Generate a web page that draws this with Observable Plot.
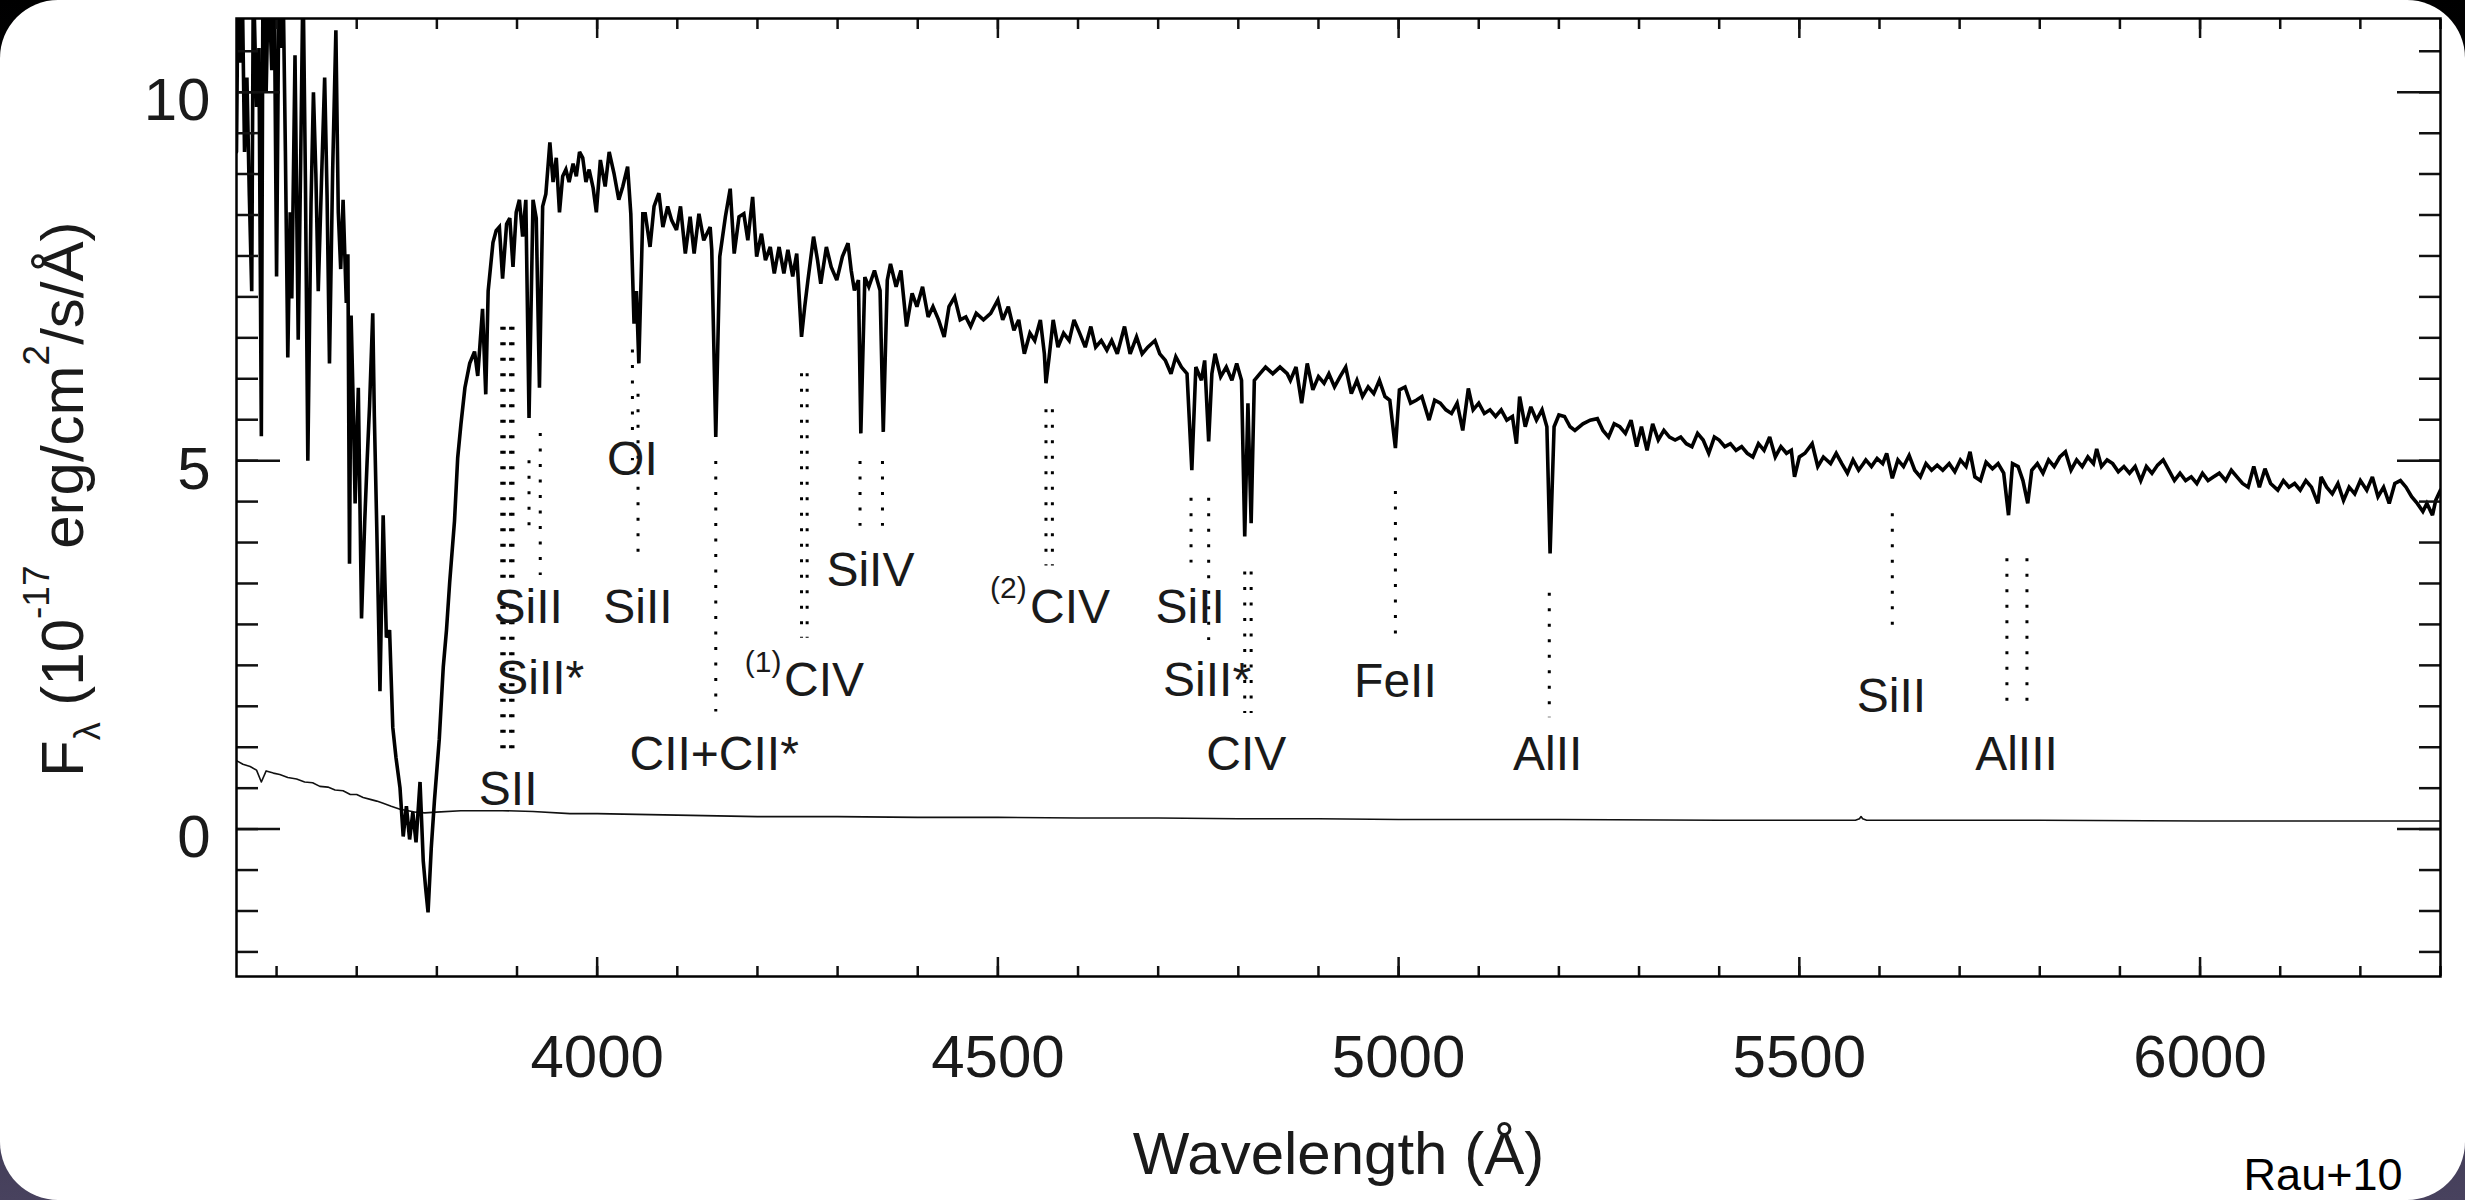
<!DOCTYPE html>
<html><head><meta charset="utf-8">
<script src="https://cdn.jsdelivr.net/npm/d3@7"></script>
<script src="https://cdn.jsdelivr.net/npm/@observablehq/plot@0.6"></script>
<style>
html,body{margin:0;padding:0;width:2465px;height:1200px;overflow:hidden;background:linear-gradient(#000 0%,#15121e 45%,#48425e 100%);}
#card{position:absolute;left:0;top:0;width:2465px;height:1200px;background:#fff;border-radius:58px;overflow:hidden;}
</style></head>
<body><div id="card"></div>
<script>
// Flux spectrum [wavelength Å, F_lambda in 1e-17 erg/cm2/s/Å]
const fluxBlue = [
[3550,9.19],[3552,11.6],[3554,10.4],[3557,11.6],[3560,9.19],[3563,10.2],[3566,8.6],[3569,7.3],[3571,11.6],[3575,9.8],
[3578,10.6],[3581,5.33],[3583,11.6],[3587,10.0],[3590,11.6],[3594,10.3],[3597,11.6],[3600,7.5],[3603,11.6],[3606,10.6],
[3608,11.6],[3611,9.2],[3614,6.4],[3617,8.37],[3619,7.2],[3623,10.5],[3627,6.64],[3630,9.0],[3633,11.6],[3636,8.8],
[3639,5.0],[3643,8.5],[3646,10.0],[3649,8.9],[3652,7.3],[3656,8.78],[3660,10.2],[3663,8.6],[3666,6.32],[3670,8.95],
[3674,10.84],[3677,8.37],[3680,7.6],[3683,8.54],[3687,7.14],[3689,7.8],[3691,3.6],[3693,6.97],[3696,5.6],[3698,4.42],
[3702,5.99],[3706,2.86],[3710,4.18],[3713,5.0],[3716,5.74],[3720,7.0],[3722,5.6],[3725,4.1],[3729,1.87],[3733,4.26],
[3737,2.6],[3741,2.7],[3745,1.38],[3749,0.97],[3754,0.56],[3758,-0.1],[3762,0.31],[3766,-0.14],[3770,0.23],[3774,-0.18],
[3779,0.64],[3783,-0.43],[3786,-0.8],[3789,-1.13],[3793,-0.26],[3797,0.39],[3803,1.22],[3808,2.2],[3812,2.7],[3816,3.35],
[3822,4.18],[3826,5.04],[3830,5.49],[3835,5.99],[3841,6.32],[3847,6.48],[3851,6.15],[3857,7.06],[3861,5.9],[3864,7.3],
[3870,7.96],[3874,8.12],[3878,8.17],[3882,7.47],[3887,8.21],[3891,8.29],[3895,7.63],[3899,8.37],[3903,8.54],[3907,8.04],
[3911,8.54],[3915,5.58],[3920,8.54],[3924,8.29],[3928,5.99],[3932,8.45],[3936,8.62]
];
const fluxPeak = [
[3941,9.32],[3945,8.78],[3949,9.11],[3953,8.37],[3957,8.86],[3961,8.95],[3965,8.78],[3970,9.03],[3974,8.86],[3978,9.19],
[3982,9.11],[3986,8.78],[3990,8.95],[3995,8.7],[3999,8.37],[4004,9.08],[4010,8.72],[4015,9.19],[4021,8.9],[4027,8.54],
[4032,8.72],[4038,8.99],[4042,8.35],[4046,6.86],[4049,7.3],[4052,6.32],[4057,8.35],[4060,8.35],[4066,7.9],[4071,8.45],
[4077,8.63],[4082,8.17],[4088,8.45],[4093,8.26],[4099,8.13],[4104,8.45],[4110,7.81],[4116,8.31],[4121,7.81],[4127,8.35],
[4133,7.99],[4141,8.17],[4143,7.86],[4148,5.32],[4153,7.77],[4160,8.31],[4166,8.69],[4171,7.81],[4177,8.31],[4183,8.35],
[4188,7.99],[4194,8.58],[4199,7.77],[4205,8.08],[4210,7.72],[4216,7.9],[4221,7.54],[4227,7.9],[4233,7.54],[4238,7.86],
[4244,7.5],[4249,7.81]
];
const fluxMid = [
[4255,6.68],[4259,7.09],[4263,7.45],[4270,8.04],[4275,7.72],[4279,7.4],[4286,7.9],[4292,7.63],[4299,7.45],[4306,7.77],
[4313,7.95],[4317,7.58],[4321,7.31],[4326,7.45],[4329,5.37],[4334,7.49],[4339,7.36],[4346,7.58],[4353,7.31],[4357,5.39],
[4362,7.45],[4366,7.67],[4373,7.36],[4379,7.58],[4386,6.82],[4393,7.27],[4399,7.09],[4406,7.36],[4413,6.95],[4419,7.09],
[4426,6.91],[4433,6.68],[4439,7.09],[4446,7.22],[4453,6.91],[4460,6.95],[4466,6.82],[4473,7.0],[4482,6.91],[4491,7.0],
[4500,7.18],[4506,6.91],[4513,7.09],[4520,6.77],[4526,6.91],[4533,6.45],[4540,6.73],[4546,6.63],[4553,6.91],[4558,6.45],
[4560,6.05],[4564,6.41],[4569,6.91],[4575,6.54],[4582,6.73],[4589,6.63],[4595,6.91],[4602,6.73],[4609,6.54],[4616,6.82],
[4622,6.54],[4629,6.63],[4636,6.5],[4642,6.63],[4649,6.45],[4658,6.82],[4665,6.45],[4673,6.68],[4680,6.45],[4687,6.54],
[4696,6.63],[4702,6.45],[4709,6.36],[4716,6.18],[4722,6.41],[4729,6.27],[4736,6.18],[4742,4.87],[4747,6.27],[4754,6.09],
[4758,6.36],[4763,5.26],[4767,6.18],[4771,6.45],[4778,6.14],[4785,6.27],[4792,6.09],[4798,6.32],[4804,6.09],[4808,3.97],
[4812,5.78],[4816,4.15],[4820,6.09],[4827,6.18],[4834,6.27],[4843,6.18],[4852,6.27],[4861,6.18]
];
const fluxRed = [
[4865,6.09],[4872,6.27],[4879,5.78],[4886,6.32],[4893,5.96],[4900,6.14],[4907,6.05],[4913,6.18],[4920,6.0],[4927,6.14],
[4934,6.27],[4941,5.91],[4948,6.09],[4955,5.87],[4962,6.0],[4969,5.91],[4976,6.09],[4983,5.87],[4989,5.82],[4996,5.17],
[5001,5.96],[5008,6.0],[5015,5.78],[5022,5.82],[5029,5.87],[5038,5.55],[5045,5.82],[5052,5.78],[5059,5.69],[5066,5.64],
[5073,5.78],[5080,5.41],[5087,5.98],[5093,5.69],[5100,5.78],[5107,5.64],[5114,5.69],[5121,5.6],[5128,5.69],[5135,5.55],
[5142,5.6],[5147,5.23],[5151,5.87],[5158,5.46],[5165,5.73],[5172,5.55],[5179,5.69],[5185,5.46],[5189,3.74],[5194,5.46],
[5200,5.62],[5207,5.6],[5214,5.46],[5220,5.41],[5230,5.5],[5239,5.55],[5248,5.57],[5255,5.41],[5262,5.32],[5269,5.5],
[5276,5.46],[5283,5.37],[5290,5.55],[5297,5.19],[5303,5.46],[5310,5.14],[5317,5.5],[5324,5.28],[5331,5.41],[5338,5.32],
[5345,5.28],[5352,5.32],[5359,5.23],[5366,5.19],[5373,5.37],[5380,5.28],[5387,5.1],[5394,5.32],[5400,5.28],[5407,5.19],
[5414,5.23],[5421,5.14],[5428,5.19],[5435,5.1],[5442,5.05],[5449,5.23],[5456,5.14],[5463,5.32],[5470,5.05],[5477,5.19],
[5484,5.1],[5490,5.14],[5494,4.78],[5500,5.05],[5507,5.1],[5516,5.23],[5523,4.92],[5530,5.05],[5539,4.96],[5546,5.1],
[5553,4.96],[5560,4.83],[5567,5.01],[5574,4.87]
];
const fluxFar = [
[5580,4.96],[5583,5.01],[5590,4.92],[5597,5.03],[5604,4.96],[5609,5.1],[5616,4.76],[5623,5.01],[5630,4.92],[5637,5.07],
[5644,4.87],[5651,4.78],[5658,4.96],[5665,4.87],[5672,4.94],[5679,4.87],[5687,4.96],[5694,4.85],[5701,5.01],[5708,4.92],
[5713,5.12],[5719,4.78],[5726,4.73],[5733,4.98],[5741,4.89],[5748,4.96],[5755,4.83],[5761,4.26],[5766,4.96],[5773,4.92],
[5779,4.73],[5785,4.42],[5790,4.87],[5797,4.96],[5804,4.83],[5811,5.01],[5818,4.92],[5825,5.05],[5832,5.12],[5839,4.87],
[5846,5.01],[5853,4.92],[5860,5.05],[5867,4.96],[5871,5.16],[5877,4.92],[5884,5.01],[5891,4.96],[5898,4.85],[5905,4.92],
[5912,4.83],[5919,4.92],[5926,4.73],[5933,4.92],[5940,4.83],[5947,4.94],[5954,5.01],[5961,4.87],[5968,4.73],[5975,4.83],
[5982,4.73],[5989,4.78],[5996,4.69],[6003,4.83],[6010,4.73],[6017,4.78],[6024,4.83],[6032,4.73],[6039,4.87],[6046,4.78],
[6053,4.69],[6060,4.64],[6067,4.92],[6074,4.64],[6081,4.89],[6088,4.69],[6097,4.6],[6104,4.73],[6111,4.64],[6118,4.69],
[6125,4.6],[6132,4.73],[6139,4.64],[6147,4.42],[6151,4.78],[6158,4.64],[6165,4.55],[6172,4.69],[6179,4.46],[6186,4.64],
[6193,4.55],[6200,4.73],[6208,4.6],[6215,4.78],[6222,4.51],[6229,4.64],[6236,4.42],[6243,4.69],[6250,4.73],[6257,4.64],
[6264,4.51],[6271,4.42],[6278,4.31],[6283,4.42],[6290,4.26],[6294,4.46],[6300,4.6]
];
// Error spectrum
const errorFlux = [
[3550,0.93],[3558,0.88],[3567,0.85],[3575,0.8],[3581,0.64],[3587,0.79],[3596,0.76],[3604,0.74],[3614,0.7],[3625,0.68],
[3635,0.64],[3645,0.63],[3654,0.58],[3664,0.57],[3673,0.53],[3683,0.52],[3692,0.47],[3700,0.47],[3708,0.43],[3718,0.4],
[3725,0.38],[3733,0.35],[3743,0.31],[3754,0.27],[3764,0.25],[3774,0.23],[3785,0.22],[3799,0.23],[3830,0.25],[3860,0.25],
[3882,0.25],[3920,0.24],[3966,0.21],[4000,0.21],[4049,0.2],[4100,0.19],[4150,0.18],[4200,0.17],[4300,0.17],[4400,0.16],
[4500,0.16],[4600,0.15],[4700,0.15],[4800,0.14],[4900,0.14],[5000,0.13],[5200,0.13],[5400,0.12],[5570,0.12],[5575,0.14],
[5577,0.17],[5579,0.14],[5584,0.12],[5800,0.12],[6000,0.11],[6300,0.11]
];
// Absorption line markers [wavelength, flux top, flux bottom]
const lineMarkers = [
[3881,6.81,1.09],[3884,6.81,1.09],[3892,6.81,1.09],[3895,6.81,1.09],
[3915,5.0,4.1],[3929,5.37,3.44],
[4044,6.5,5.0],[4051,5.9,3.64],
[4148,4.99,1.59],
[4255,6.18,2.59],[4262,6.18,2.59],
[4328,4.99,4.11],[4356,4.99,4.11],
[4560,5.69,3.57],[4568,5.69,3.57],
[4741,4.49,3.61],[4763,4.49,2.56],
[4808,3.49,1.57],[4816,3.49,1.57],
[4996,4.58,2.5],
[5188,3.2,1.51],
[5616,4.28,2.61],
[5759,3.67,1.57],[5784,3.67,1.57]
];
// Ion labels [text, wavelength, flux of baseline]
const ionLabels = [
["SiII",3914,2.80],["SiII*",3929,1.83],["SII",3889,0.33],
["OI",4044,4.80],["SiII",4051,2.80],["CII+CII*",4146,0.80],
["CIV",4283,1.80],["SiIV",4341,3.30],["CIV",4590,2.80],
["SiII",4740,2.80],["SiII*",4761,1.80],["CIV",4810,0.80],
["FeII",4996,1.79],["AlII",5186,0.80],["SiII",5615,1.59],["AlIII",5771,0.80]
];
const systemTags = [["(1)",4230,2.13],["(2)",4536,3.13]];
// Axes
const xMajorTicks = [4000,4500,5000,5500,6000];
const xMinorTicks = d3.range(3600,6301,100);
const yMajorTicks = [0,5,10];
const yMinorTicks = d3.range(-3,20).map(k => k*5/9);

const toObj = a => a.map(([w,f]) => ({w,f}));
const spectrum = toObj([...fluxBlue,...fluxPeak,...fluxMid,...fluxRed,...fluxFar]);
const errData = toObj(errorFlux);
const markers = lineMarkers.map(([w,y1,y2]) => ({w,y1,y2}));
const labels = ionLabels.map(([t,w,f]) => ({t,w,f}));
const tags = systemTags.map(([t,w,f]) => ({t,w,f}));

const font = "'Liberation Sans', Arial, Helvetica, sans-serif";
const ink = "#111";
const blank = () => "";

const plot = Plot.plot({
  width: 2465, height: 1200,
  marginLeft: 236, marginRight: 25, marginTop: 18, marginBottom: 224,
  x: {domain: [3550, 6300], label: null},
  y: {domain: [-2, 11], label: null},
  style: {fontFamily: font, background: "transparent", color: ink, overflow: "visible"},
  marks: [
    Plot.line(errData, {x: "w", y: "f", stroke: ink, strokeWidth: 1.6, clip: true}),
    Plot.line(spectrum, {x: "w", y: "f", stroke: "#000", strokeWidth: 3.6, strokeLinejoin: "miter", strokeMiterlimit: 3, clip: true}),
    Plot.ruleX(markers, {x: "w", y1: "y1", y2: "y2", stroke: "#000", strokeWidth: 3, strokeDasharray: "3,12.5"}),
    Plot.text(labels, {x: "w", y: "f", text: "t", fontSize: 48, lineAnchor: "bottom", textAnchor: "middle", fill: "#1a1a1a"}),
    Plot.text(tags, {x: "w", y: "f", text: "t", fontSize: 30, lineAnchor: "bottom", textAnchor: "end", fill: "#1a1a1a"}),
    // inward ticks
    Plot.axisX(xMinorTicks, {anchor: "bottom", tickSize: 10, dy: -10, tickFormat: blank, strokeWidth: 2.5, label: null}),
    Plot.axisX(xMajorTicks, {anchor: "bottom", tickSize: 19, dy: -19, tickFormat: blank, strokeWidth: 2.5, label: null}),
    Plot.axisX(xMinorTicks, {anchor: "top", tickSize: 10, dy: 10, tickFormat: blank, strokeWidth: 2.5, label: null}),
    Plot.axisX(xMajorTicks, {anchor: "top", tickSize: 19, dy: 19, tickFormat: blank, strokeWidth: 2.5, label: null}),
    Plot.axisY(yMinorTicks, {anchor: "left", tickSize: 22, dx: 22, tickFormat: blank, strokeWidth: 2.5, label: null}),
    Plot.axisY(yMajorTicks, {anchor: "left", tickSize: 44, dx: 44, tickFormat: blank, strokeWidth: 2.5, label: null}),
    Plot.axisY(yMinorTicks, {anchor: "right", tickSize: 22, dx: -22, tickFormat: blank, strokeWidth: 2.5, label: null}),
    Plot.axisY(yMajorTicks, {anchor: "right", tickSize: 44, dx: -44, tickFormat: blank, strokeWidth: 2.5, label: null}),
    // tick labels
    Plot.axisX(xMajorTicks, {anchor: "bottom", tickSize: 0, tickPadding: 58, fontSize: 60, tickFormat: d => String(d), fill: "#1a1a1a", label: null}),
    Plot.axisY(yMajorTicks, {anchor: "left", tickSize: 0, tickPadding: 26, dy: 9, fontSize: 60, tickFormat: d => String(d), fill: "#1a1a1a", label: null}),
    Plot.frame({stroke: "#000", strokeWidth: 2.5}),
    Plot.text(["Wavelength (Å)"], {frameAnchor: "bottom", dy: 197, text: d => d, fontSize: 60, lineAnchor: "bottom", fill: "#1a1a1a"}),
    Plot.text(["Rau+10"], {frameAnchor: "bottom-right", dx: -38, dy: 213, text: d => d, fontSize: 45, textAnchor: "end", lineAnchor: "bottom", fill: "#000"})
  ]
});

// y-axis title with sub/superscripts
const yt = d3.select(plot).append("text")
  .attr("transform", "translate(83,777) rotate(-90)")
  .attr("text-anchor", "start")
  .attr("font-family", font).attr("font-size", 60).attr("fill", "#1a1a1a");
yt.append("tspan").text("F");
yt.append("tspan").attr("font-size", 36).attr("dy", 17).text("λ");
yt.append("tspan").attr("dy", -17).text(" (10");
yt.append("tspan").attr("font-size", 37).attr("dy", -34).text("-17");
yt.append("tspan").attr("dy", 34).text(" erg/cm");
yt.append("tspan").attr("font-size", 37).attr("dy", -34).text("2");
yt.append("tspan").attr("dy", 34).text("/s/Å)");

document.getElementById("card").appendChild(plot);
</script>
</body></html>
